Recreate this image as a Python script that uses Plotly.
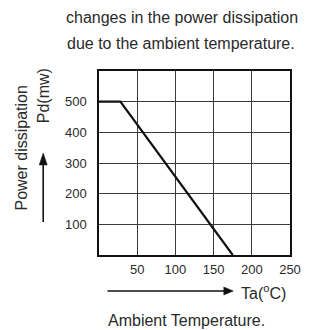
import plotly.graph_objects as go

# Derating curve: power dissipation vs ambient temperature
temp_c = [0, 28, 175]
power_mw = [500, 500, 0]

x_ticks = [50, 100, 150, 200, 250]
y_ticks = [100, 200, 300, 400, 500]

FONT = "Liberation Sans, Arial, sans-serif"
TXT = "#2a2a2a"
INK = "#111111"

W, H = 313, 330
L, T = 99, 71
PW, PH = 202, 184

fig = go.Figure()
fig.add_trace(go.Scatter(x=temp_c, y=power_mw, mode="lines",
                         line=dict(color=INK, width=2.2),
                         showlegend=False, hoverinfo="skip"))

fig.update_layout(
    width=W, height=H, autosize=False,
    margin=dict(l=L, r=W - L - PW, t=T, b=H - T - PH, pad=0),
    paper_bgcolor="white", plot_bgcolor="white",
    font=dict(family=FONT, color=TXT, size=13),
    showlegend=False,
)
fig.update_xaxes(range=[0, 250], tickvals=x_ticks, ticktext=[str(v) for v in x_ticks],
                 showgrid=True, gridcolor="#3a3a3a", gridwidth=1.3,
                 showline=True, linecolor=INK, linewidth=1.5, mirror=True,
                 ticks="", zeroline=False, tickfont=dict(size=13, color=TXT, family=FONT),
                 ticklabelstandoff=2)
fig.update_yaxes(range=[0, 600], tickvals=y_ticks, ticktext=[str(v) for v in y_ticks],
                 showgrid=True, gridcolor="#3a3a3a", gridwidth=1.3,
                 showline=True, linecolor=INK, linewidth=1.5, mirror=True,
                 ticks="", zeroline=False, tickfont=dict(size=13, color=TXT, family=FONT),
                 ticklabelstandoff=8)

def px2paper(px, py):
    # screen pixel -> paper coords (plot area on screen: x 99..301, y 71..255)
    return (px - L) / float(PW), (T + PH - py) / float(PH)

anns = []
def txt(text, px, py, size=16, angle=0, xanchor="center"):
    x, y = px2paper(px, py)
    anns.append(dict(text=text, x=x, y=y, xref="paper", yref="paper",
                     showarrow=False, textangle=angle, xanchor=xanchor, yanchor="middle",
                     font=dict(size=size, family=FONT, color=TXT)))

txt("changes in the power dissipation", 187, 17)
txt("due to the ambient temperature.", 186, 43)
txt("Power dissipation", 16, 148, angle=-90)
txt("Pd(mw)", 40, 96, angle=-90)
txt("Ta(<sup>o</sup>C)", 247, 292, xanchor="left")
txt("Ambient Temperature.", 192, 320)
fig.update_layout(annotations=anns)

# arrows drawn as shapes (shaft + filled head)
def arrow(x0, y0, x1, y1, head_len, head_w):
    ax0, ay0 = px2paper(x0, y0)
    dx, dy = x1 - x0, y1 - y0
    n = (dx * dx + dy * dy) ** 0.5
    ux, uy = dx / n, dy / n
    bx, by = x1 - ux * head_len, y1 - uy * head_len
    sx, sy = px2paper(bx + ux * 1, by + uy * 1)
    fig.add_shape(type="line", xref="paper", yref="paper", x0=ax0, y0=ay0, x1=sx, y1=sy,
                  line=dict(color=INK, width=1.6))
    px_, py_ = -uy, ux
    pts = [(x1, y1), (bx + px_ * head_w / 2, by + py_ * head_w / 2),
           (bx - px_ * head_w / 2, by - py_ * head_w / 2)]
    pp = [px2paper(a, b) for a, b in pts]
    path = "M %f,%f L %f,%f L %f,%f Z" % (pp[0][0], pp[0][1], pp[1][0], pp[1][1], pp[2][0], pp[2][1])
    fig.add_shape(type="path", xref="paper", yref="paper", path=path,
                  fillcolor=INK, line=dict(color=INK, width=0.5))

arrow(40, 222, 40, 153, 12, 8.5)
arrow(108, 291, 241, 291, 10, 8)

fig.write_html("out.html",
               config={"responsive": False, "displayModeBar": False},
               post_script="document.body.style.margin='0';document.body.style.overflow='hidden';")
